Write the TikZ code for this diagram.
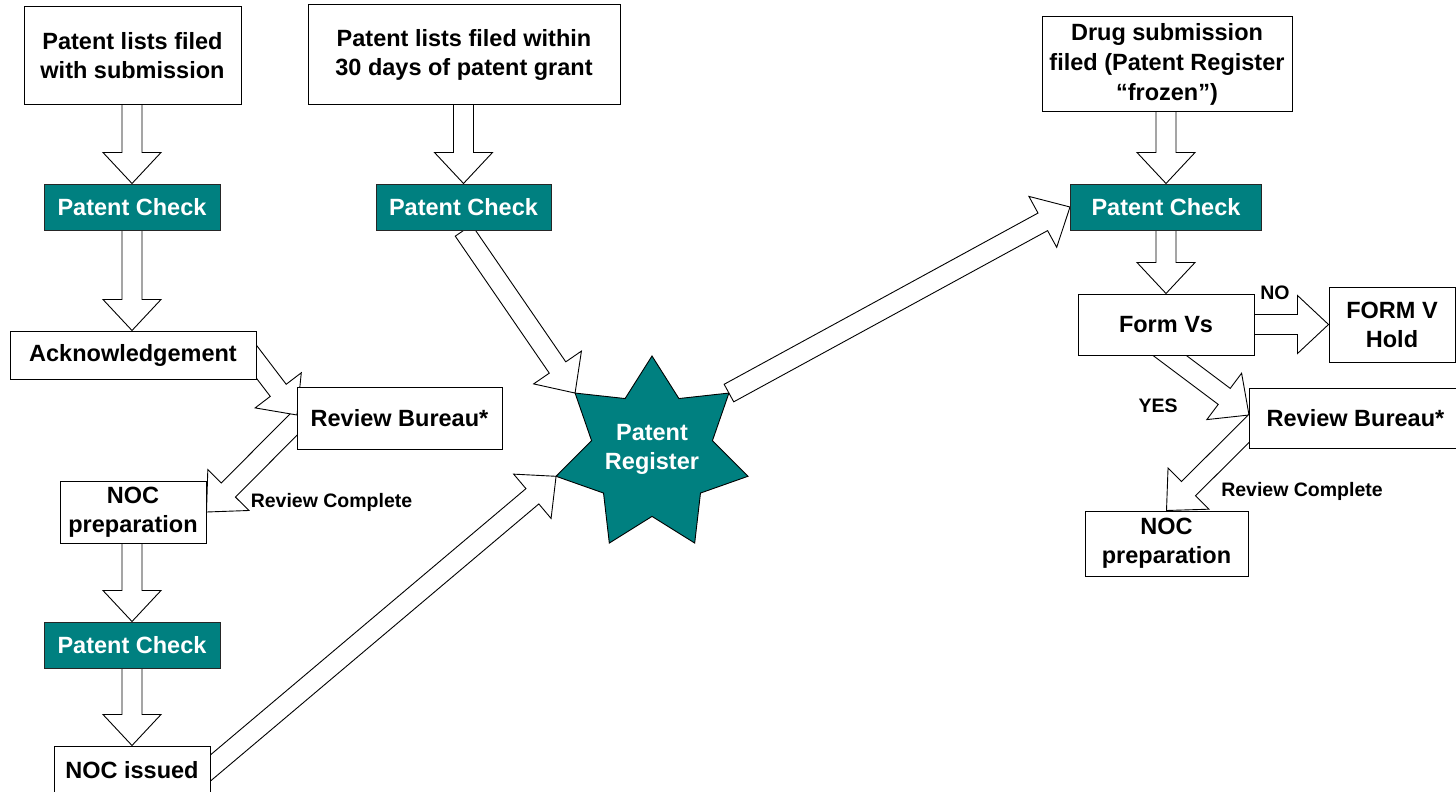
\documentclass[tikz,border=0pt]{standalone}
\usepackage{fontspec}
\setmainfont{Liberation Sans}
\usetikzlibrary{calc}
\pgfdeclarelayer{bg}
\pgfsetlayers{bg,main}
\definecolor{checkteal}{RGB}{0,128,128}

% hollow block arrow from tail coordinate #1 to tip coordinate #2
\newcommand\blockarrow[2]{%
  \path ($(#2)!31pt!(#1)$) coordinate (bh);
  \draw[blk] ($(#1)!10pt!90:(#2)$) -- ($(bh)!10pt!90:(#2)$) -- ($(bh)!29pt!90:(#2)$) -- (#2)
    -- ($(bh)!29pt!-90:(#2)$) -- ($(bh)!10pt!-90:(#2)$) -- ($(#1)!10pt!-90:(#2)$) -- cycle;
}

\tikzset{
  box/.style={draw=black, line width=1pt, fill=white, inner sep=0pt, align=center,
    text=black, font=\bfseries\fontsize{23.5}{29}\selectfont},
  check/.style={box, fill=checkteal, draw=black!85, text=white},
  lbl/.style={inner sep=0pt, font=\bfseries\fontsize{19.5}{23}\selectfont},
  blk/.style={draw=black, line width=0.9pt, fill=white, line join=miter},
  starfill/.style={draw=black, line width=0.9pt, fill=checkteal},
}

\begin{document}
\begin{tikzpicture}[x=1pt, y=-1pt]
\useasboundingbox (0,0) rectangle (1456,792);
\begin{pgfonlayer}{bg}
  \fill[white] (0,0) rectangle (1456,792);
\end{pgfonlayer}

% left column
\node[box, minimum width=217, minimum height=97] (b1) at (132.5,55.5) {Patent lists filed\\with submission};
\node[check, minimum width=176, minimum height=46] (pc1) at (132,207) {Patent Check};
\node[box, minimum width=246, minimum height=48] (ack) at (133,355) {Acknowledgement};
\node[box, minimum width=205, minimum height=62] (rb1) at (399.5,418) {Review Bureau*};
\node[box, minimum width=146, minimum height=62] (noc1) at (133,512) {NOC\\preparation};
\node[check, minimum width=176, minimum height=46] (pc3) at (132,645) {Patent Check};
\node[box, minimum width=156, minimum height=48] (noci) at (132,770) {NOC issued};

% middle column
\node[box, minimum width=312, minimum height=99] (b2) at (464,54.5) {Patent lists filed within\\30 days of patent grant};
\node[check, minimum width=175, minimum height=46] (pc2) at (463.5,207) {Patent Check};

% right column
\node[box, minimum width=250, minimum height=94, font=\bfseries\fontsize{23.5}{30}\selectfont] (b3) at (1167,64) {Drug submission\\filed (Patent Register\\“frozen”)};
\node[check, minimum width=191, minimum height=46] (pc4) at (1166,207) {Patent Check};
\node[box, minimum width=176, minimum height=61] (fv) at (1166,324.5) {Form Vs};
\node[box, minimum width=126, minimum height=75] (hold) at (1392,324.5) {FORM V\\Hold};
\node[box, minimum width=213, minimum height=60] (rb2) at (1355.5,418) {Review Bureau*};
\node[box, minimum width=163, minimum height=65] (noc2) at (1166.5,543.5) {NOC\\preparation};

% the register star
\begin{pgfonlayer}{bg}
\begin{scope}[shift={(652,454.4)}]
  \draw[starfill] (-90:98.4) \foreach \k in {0,...,6} {
      -- ({-90+(\k+0.5)*360/7}:62) -- ({-90+(\k+1)*360/7}:98.4) } -- cycle;
  \coordinate (starUL) at (-141.43:98.4);
  \coordinate (starUR) at (-38.57:98.4);
  \coordinate (starL) at (-192.86:98.4);
\end{scope}
\end{pgfonlayer}
\node[inner sep=0pt, align=center, text=white, font=\bfseries\fontsize{23.5}{29}\selectfont] (star) at (652,449) {Patent\\Register};

% arrow end points
\coordinate (t1) at (pc1.north |- b1.center);
\coordinate (h2) at (pc1.south |- ack.north);
\coordinate (t3) at (pc3.north |- noc1.center);
\coordinate (h4) at (pc3.south |- noci.north);
\coordinate (t5) at (pc2.north |- b2.center);
\coordinate (t9) at (pc4.north |- b3.center);
\coordinate (h10) at (pc4.south |- fv.north);
\coordinate (h11) at (hold.west |- fv.center);
\coordinate (ackT) at (242.5,343.4);
\coordinate (rb1H) at (297,415);
\coordinate (rb1T) at (312,406);
\coordinate (nociT) at (195,781);
\coordinate (fvT) at (1149,340);
\coordinate (rb2H) at (1249,415);
\coordinate (rb2T) at (1265.5,412);

\begin{pgfonlayer}{bg}
  \blockarrow{t1}{pc1.north}
  \blockarrow{pc1.center}{h2}
  \blockarrow{t3}{pc3.north}
  \blockarrow{pc3.center}{h4}
  \blockarrow{t5}{pc2.north}
  \blockarrow{pc2.south}{starUL}
  \blockarrow{nociT}{starL}
  \blockarrow{starUR}{pc4.west}
  \blockarrow{t9}{pc4.north}
  \blockarrow{pc4.center}{h10}
  \blockarrow{fv.center}{h11}
  \blockarrow{fvT}{rb2H}
  \blockarrow{rb2T}{noc2.north}
  \blockarrow{rb1T}{noc1.east}
  \blockarrow{ackT}{rb1H}
\end{pgfonlayer}

% connector labels
\node[lbl] (rc1) at (331.5,502) {Review Complete};
\node[lbl] (rc2) at (1302,491) {Review Complete};
\node[lbl] (no) at (1275,293) {NO};
\node[lbl] (yes) at (1158,406) {YES};
\end{tikzpicture}
\end{document}
